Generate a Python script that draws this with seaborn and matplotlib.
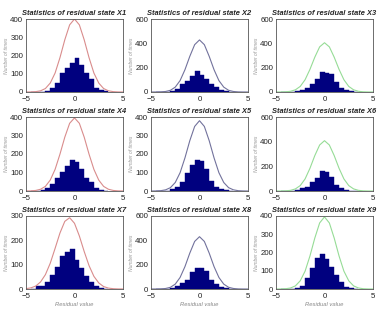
import matplotlib
matplotlib.use("Agg")
import matplotlib.pyplot as plt
import seaborn as sns

sns.set_style("white")
plt.rcParams['font.family'] = ['Liberation Sans', 'DejaVu Sans']

# ---- data ----
states = ["X1", "X2", "X3", "X4", "X5", "X6", "X7", "X8", "X9"]

bin_edges = [-4.5, -4.0, -3.5, -3.0, -2.5, -2.0, -1.5, -1.0, -0.5,
             0.0, 0.5, 1.0, 1.5, 2.0, 2.5, 3.0, 3.5]
bin_centers = [-4.25, -3.75, -3.25, -2.75, -2.25, -1.75, -1.25, -0.75,
               -0.25, 0.25, 0.75, 1.25, 1.75, 2.25, 2.75, 3.25]

counts_x1 = [0, 0, 2, 8, 24, 51, 106, 134, 161, 189, 147, 106, 70, 24, 11, 3]
counts_x2 = [0, 0, 2, 8, 28, 63, 91, 132, 174, 138, 105, 63, 44, 17, 5, 1]
counts_x3 = [0, 0, 2, 6, 18, 36, 69, 110, 165, 160, 146, 83, 36, 19, 5, 1]
counts_x4 = [0, 2, 5, 15, 37, 70, 101, 136, 169, 156, 119, 70, 46, 18, 7, 2]
counts_x5 = [0, 0, 2, 9, 22, 46, 95, 138, 168, 163, 119, 55, 22, 9, 3, 1]
counts_x6 = [0, 0, 2, 8, 22, 33, 69, 105, 160, 158, 110, 50, 22, 8, 3, 1]
counts_x7 = [0, 11, 11, 28, 57, 90, 135, 152, 166, 120, 85, 55, 30, 12, 4, 0]
counts_x8 = [0, 0, 2, 8, 27, 49, 76, 136, 172, 170, 144, 76, 44, 16, 5, 1]
counts_x9 = [0, 0, 1, 5, 18, 60, 114, 168, 190, 163, 123, 78, 36, 11, 3, 1]

curve_x = [-5, -4.5, -4, -3.5, -3, -2.5, -2, -1.5, -1, -0.5, 0,
           0.5, 1, 1.5, 2, 2.5, 3, 3.5, 4, 4.5, 5]
fit_x1 = [0, 0.4, 1.9, 6.5, 19, 49, 104, 188, 286, 368, 400, 368, 286, 188, 104, 49, 19, 6.5, 1.9, 0.4, 0]
fit_x2 = [0, 0.2, 1, 4.2, 14, 40, 94, 183, 293, 389, 428, 389, 293, 183, 94, 40, 14, 4.2, 1, 0.2, 0]
fit_x3 = [0, 0.4, 1.6, 5.8, 18, 46, 101, 186, 286, 371, 405, 371, 286, 186, 101, 46, 18, 5.8, 1.6, 0.4, 0]
fit_x4 = [0.2, 0.8, 3, 9.4, 25, 59, 117, 199, 291, 366, 395, 366, 291, 199, 117, 59, 25, 9.4, 3, 0.8, 0.2]
fit_x5 = [0, 0.4, 1.7, 6.2, 18, 46, 99, 179, 272, 349, 380, 349, 272, 179, 99, 46, 18, 6.2, 1.7, 0.4, 0]
fit_x6 = [0, 0.3, 1.4, 5.3, 17, 44, 98, 184, 287, 373, 408, 373, 287, 184, 98, 44, 17, 5.3, 1.4, 0.3, 0]
fit_x7 = [1.5, 4.6, 12, 29, 59, 106, 167, 230, 278, 293, 270, 218, 154, 96, 52, 25, 10, 3.7, 1.2, 0.3, 0.1]
fit_x8 = [0, 0.2, 1, 4.2, 14, 40, 95, 184, 295, 391, 430, 391, 295, 184, 95, 40, 14, 4.2, 1, 0.2, 0]
fit_x9 = [0, 0.4, 1.5, 5.6, 17, 45, 98, 181, 279, 362, 395, 362, 279, 181, 98, 45, 17, 5.6, 1.5, 0.4, 0]

y_max = [400, 600, 600, 400, 400, 600, 300, 600, 400]
y_step = [100, 200, 200, 100, 100, 200, 100, 200, 100]

counts = [counts_x1, counts_x2, counts_x3, counts_x4, counts_x5,
          counts_x6, counts_x7, counts_x8, counts_x9]
fits = [fit_x1, fit_x2, fit_x3, fit_x4, fit_x5, fit_x6, fit_x7, fit_x8, fit_x9]

# ---- style ----
bar_color = '#00007f'
line_colors = ['#d98c8c', '#72729c', '#96dc96']   # one per column
W, H = 382, 310
lefts = [26, 151, 276]
tops = [19, 117, 216]
heights = [73, 74, 73]

fig = plt.figure(figsize=(W / 100, H / 100), dpi=100)

for i, st in enumerate(states):
    r, c = divmod(i, 3)
    ax = fig.add_axes([lefts[c] / W, 1 - (tops[r] + heights[r]) / H,
                       97 / W, heights[r] / H])
    sns.histplot(x=bin_centers, weights=counts[i], bins=bin_edges,
                 color=bar_color, alpha=1, edgecolor=bar_color,
                 linewidth=0.3, ax=ax)
    sns.lineplot(x=curve_x, y=fits[i], color=line_colors[c],
                 linewidth=0.8, ax=ax)
    ax.set_xlim(-5, 5)
    ax.set_ylim(0, y_max[i])
    ax.set_xticks([-5, 0, 5])
    ax.set_yticks(list(range(0, y_max[i] + 1, y_step[i])))
    ax.tick_params(direction='in', length=2, width=0.5, labelsize=5.7,
                   colors='#222222')
    ax.tick_params(axis='x', pad=3)
    ax.tick_params(axis='y', pad=2)
    for s in ax.spines.values():
        s.set_linewidth(0.6)
        s.set_color('#555555')
    ax.set_title("Statistics of residual state " + st, fontsize=5.4,
                 fontweight='bold', fontstyle='italic', pad=3)
    ax.set_ylabel("Number of times", fontsize=3.6, fontstyle='italic',
                  color='#999999', labelpad=1)
    if r == 2:
        ax.set_xlabel("Residual value", fontsize=4.2, fontstyle='italic',
                      color='#888888', labelpad=1)
    else:
        ax.set_xlabel("")

fig.savefig("out.png", dpi=100)
